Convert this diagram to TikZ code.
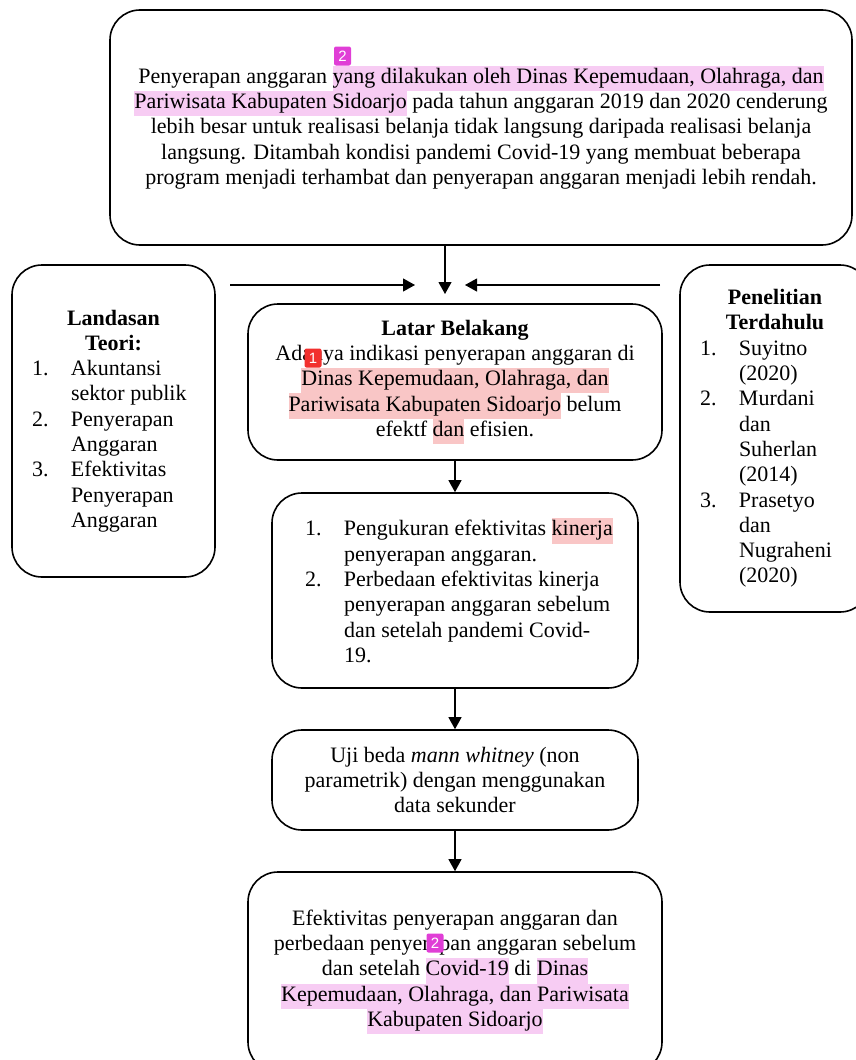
\documentclass[tikz,border=0pt]{standalone}
\usepackage{fontspec}
\setmainfont{Liberation Serif}
\newfontfamily\badgefont{Liberation Sans}
\usepackage{xcolor}
\usetikzlibrary{arrows.meta}

\definecolor{hlmag}{HTML}{F7CCF3}
\definecolor{hlred}{HTML}{F9C6C6}
\definecolor{badgemag}{HTML}{E03ED6}
\definecolor{badgered}{HTML}{F2302E}

\newcommand{\hlm}[1]{{\setlength{\fboxsep}{0pt}\colorbox{hlmag}{\strut #1}}}
\newcommand{\hlr}[1]{{\setlength{\fboxsep}{0pt}\colorbox{hlred}{\strut #1}}}
\newcommand{\itm}[3]{\makebox[#1][l]{\makebox[39pt][l]{#2}#3}}

\tikzset{
  box/.style={draw, line width=1.6pt, rounded corners=30pt, align=center, inner sep=0pt,
    font=\fontsize{22}{25.3}\selectfont},
  arr/.style={line width=1.1pt, -{Triangle[length=12pt,width=13pt]}},
  badge/.style={rounded corners=2pt, text=white, inner sep=0pt, minimum width=17pt,
    minimum height=19pt, font=\badgefont\fontsize{15}{15}\selectfont}
}

\begin{document}
\begin{tikzpicture}[x=1pt,y=-1pt]
\useasboundingbox (0,0) rectangle (855,1060);

\node[box, minimum width=742, minimum height=235] (masalah) at (481,127.5)
{Penyerapan anggaran \hlm{yang dilakukan oleh Dinas Kepemudaan, Olahraga, dan}\\
\hlm{Pariwisata Kabupaten Sidoarjo} pada tahun anggaran 2019 dan 2020 cenderung\\
lebih besar untuk realisasi belanja tidak langsung daripada realisasi belanja\\
langsung. Ditambah kondisi pandemi Covid-19 yang membuat beberapa\\
program menjadi terhambat dan penyerapan anggaran menjadi lebih rendah.};

\node[box, minimum width=203, minimum height=312] (teori) at (113.5,421)
{\textbf{Landasan}\\ \textbf{Teori:}\\
\itm{163pt}{1.}{Akuntansi}\\ \itm{163pt}{}{sektor publik}\\
\itm{163pt}{2.}{Penyerapan}\\ \itm{163pt}{}{Anggaran}\\
\itm{163pt}{3.}{Efektivitas}\\ \itm{163pt}{}{Penyerapan}\\
\itm{163pt}{}{Anggaran}};

\node[box, minimum width=190, minimum height=347] (terdahulu) at (775,438.5)
{\textbf{Penelitian}\\ \textbf{Terdahulu}\\
\itm{150pt}{1.}{Suyitno}\\ \itm{150pt}{}{(2020)}\\
\itm{150pt}{2.}{Murdani}\\ \itm{150pt}{}{dan}\\
\itm{150pt}{}{Suherlan}\\ \itm{150pt}{}{(2014)}\\
\itm{150pt}{3.}{Prasetyo}\\ \itm{150pt}{}{dan}\\
\itm{150pt}{}{Nugraheni}\\ \itm{150pt}{}{(2020)}};

\node[box, minimum width=414, minimum height=156] (latar) at (455,382)
{\textbf{Latar Belakang}\\
Adanya indikasi penyerapan anggaran di\\
\hlr{Dinas Kepemudaan, Olahraga, dan}\\
\hlr{Pariwisata Kabupaten Sidoarjo} belum\\
efektf \hlr{dan} efisien.};

\node[box, minimum width=366, minimum height=195] (rumusan) at (455,590.5)
{\itm{300pt}{1.}{Pengukuran efektivitas \hlr{kinerja}}\\
\itm{300pt}{}{penyerapan anggaran.}\\
\itm{300pt}{2.}{Perbedaan efektivitas kinerja}\\
\itm{300pt}{}{penyerapan anggaran sebelum}\\
\itm{300pt}{}{dan setelah pandemi Covid-}\\
\itm{300pt}{}{19.}};

\node[box, minimum width=366, minimum height=100] (uji) at (455,780)
{Uji beda \textit{mann whitney} (non\\
parametrik) dengan menggunakan\\
data sekunder};

\node[box, minimum width=414, minimum height=200] (hasil) at (455,972)
{Efektivitas penyerapan anggaran dan\\
perbedaan penyerapan anggaran sebelum\\
dan setelah \hlm{Covid-19} di \hlm{Dinas}\\
\hlm{Kepemudaan, Olahraga, dan Pariwisata}\\
\hlm{Kabupaten Sidoarjo}};

\coordinate (kiri) at (230,285);
\coordinate (kiriujung) at (415,285);
\coordinate (kanan) at (660,285);
\coordinate (kananujung) at (465,285);
\coordinate (bawahujung) at (445,294);

\draw[arr] (kiri) -- (kiriujung);
\draw[arr] (kanan) -- (kananujung);
\draw[arr] (masalah.south -| bawahujung) -- (bawahujung);
\draw[arr] (latar.south) -- (rumusan.north);
\draw[arr] (rumusan.south) -- (uji.north);
\draw[arr] (uji.south) -- (hasil.north);

\node[badge, fill=badgemag] (tanda2a) at (342.5,56) {2};
\node[badge, fill=badgered] (tanda1) at (313,358) {1};
\node[badge, fill=badgemag] (tanda2b) at (435,943) {2};
\end{tikzpicture}
\end{document}
